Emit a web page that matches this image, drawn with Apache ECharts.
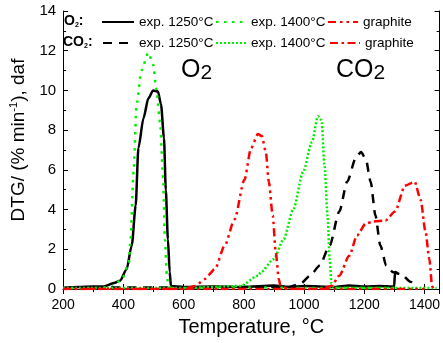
<!DOCTYPE html>
<html>
<head>
<meta charset="utf-8">
<script src="https://cdn.jsdelivr.net/npm/echarts@6/dist/echarts.min.js"></script>
<style>
  html, body { margin: 0; padding: 0; background: #fff; }
  #chart { width: 443px; height: 343px; }
</style>
</head>
<body>
<div id="chart"></div>
<script>
// [temperature °C, DTG %/min daf]
const o2Exp1250 = [
  [200, 0.05], [250, 0.1], [300, 0.12], [333, 0.12], [369, 0.3], [389, 0.42], [411, 1.0], [428, 2.2],
  [441, 4.2], [450, 7.1], [467, 8.6], [483, 9.6], [499, 10.0], [515, 9.95], [525, 9.3], [535, 7.6],
  [541, 5.0], [548, 2.5], [554, 0.85], [558, 0.15], [600, 0.1], [700, 0.12], [800, 0.1], [900, 0.18],
  [950, 0.1], [1000, 0.15], [1100, 0.1], [1150, 0.18], [1200, 0.12], [1250, 0.15], [1299, 0.12],
  [1302, 0.85], [1310, 0.8]
];
const o2Exp1400 = [
  [200, 0.05], [300, 0.05], [360, 0.1], [396, 0.5], [418, 1.3], [424, 2.5], [434, 5.9], [444, 9.3],
  [460, 11.0], [483, 11.9], [499, 11.3], [509, 10.1], [522, 8.4], [532, 5.6], [538, 2.5], [545, 0.6],
  [550, 0.1], [600, 0.05], [800, 0.08], [1000, 0.05], [1300, 0.05]
];
const o2Graphite = [
  [200, 0], [600, 0], [639, 0.15], [670, 0.5], [704, 1.0], [737, 2.2], [769, 3.5], [802, 5.5],
  [824, 7.1], [847, 7.8], [860, 7.7], [873, 6.9], [883, 5.4], [896, 3.7], [906, 1.85], [916, 0.5],
  [922, 0.15], [950, 0], [1400, 0]
];
const co2Exp1250 = [
  [200, 0.05], [500, 0.08], [800, 0.1], [950, 0.1], [987, 0.25], [1020, 0.67], [1052, 1.18],
  [1085, 2.2], [1117, 3.9], [1143, 5.4], [1172, 6.6], [1189, 6.9], [1205, 6.55], [1221, 5.4],
  [1237, 3.7], [1253, 2.2], [1273, 1.18], [1296, 0.84], [1322, 0.75], [1355, 0.35], [1370, 0.1]
];
const co2Exp1400 = [
  [200, 0.05], [600, 0.05], [790, 0.15], [847, 0.67], [857, 0.85], [899, 1.5], [932, 2.5], [964, 4.0],
  [997, 5.9], [1026, 7.4], [1046, 8.7], [1058, 8.5], [1068, 6.2], [1078, 3.7], [1085, 1.5],
  [1091, 0.25], [1100, 0.05], [1440, 0.05]
];
const co2Graphite = [
  [200, 0], [1050, 0], [1091, 0.15], [1117, 0.67], [1150, 1.67], [1176, 2.7], [1205, 3.3],
  [1231, 3.4], [1270, 3.45], [1302, 3.9], [1335, 5.2], [1367, 5.4], [1387, 4.5], [1403, 2.9],
  [1416, 1.5], [1425, 0.15], [1430, 0]
];

const seriesNames = [
  'O2 exp. 1250°C', 'O2 exp. 1400°C', 'O2 graphite',
  'CO2 exp. 1250°C', 'CO2 exp. 1400°C', 'CO2 graphite'
];
const seriesData = [o2Exp1250, o2Exp1400, o2Graphite, co2Exp1250, co2Exp1400, co2Graphite];
const seriesColors = ['#000000', '#00ee00', '#ff0000', '#000000', '#00ee00', '#ff0000'];
const seriesDash = ['solid', [2.5, 5.5], [8, 4, 2.5, 4, 2.5, 4], [9, 7], [2, 2], [8, 3.5, 2.5, 3.5]];

const xTicks = { min: 200, max: 1450, interval: 200 };
const yTicks = { min: 0, max: 14, interval: 2 };

const FONT = 'Liberation Sans, Arial, sans-serif';

const chart = echarts.init(document.getElementById('chart'));

// legend item spots, one legend per series
const legendSpots = [
  [101, 15, 32], [215, 15, 30], [327, 15, 30],
  [102, 36, 31], [215, 36, 30], [329, 36, 30]
];

const baseAxis = {
  axisLine: { show: true, lineStyle: { color: '#000', width: 1 } },
  axisTick: { show: true, inside: true, length: 5, lineStyle: { color: '#000' } },
  minorTick: { show: true, splitNumber: 2, length: 3, lineStyle: { color: '#000' } },
  splitLine: { show: false }
};

const option = {
  animation: false,
  grid: { left: 60, right: 1, top: 11, bottom: 54 },
  legend: seriesNames.map((n, i) => ({
    data: [n],
    left: legendSpots[i][0],
    top: legendSpots[i][1],
    itemWidth: legendSpots[i][2],
    itemHeight: 14,
    padding: 0,
    selectedMode: false,
    itemStyle: { opacity: 0 },
    formatter: name => name.replace(/^C?O2 /, ''),
    textStyle: { fontFamily: FONT, fontSize: 13.5, color: '#000' }
  })),
  xAxis: [
    Object.assign({}, baseAxis, {
      type: 'value', position: 'bottom', ...xTicks,
      name: 'Temperature, °C', nameLocation: 'middle', nameGap: 28,
      nameTextStyle: { fontFamily: FONT, fontSize: 20, color: '#000' },
      axisLabel: {
        fontFamily: FONT, fontSize: 14, color: '#000', margin: 9, showMaxLabel: false,
        formatter: v => String(v)
      }
    }),
    Object.assign({}, baseAxis, {
      type: 'value', position: 'top', ...xTicks, axisLabel: { show: false }
    })
  ],
  yAxis: [
    Object.assign({}, baseAxis, {
      type: 'value', position: 'left', ...yTicks,
      name: '{t|DTG/ (% min}{sup|-1}{t|), daf}', nameLocation: 'middle', nameGap: 30,
      nameTextStyle: {
        padding: [0, 0, 0, 20],
        rich: {
          t: { fontFamily: FONT, fontSize: 19, color: '#000', lineHeight: 22 },
          sup: { fontFamily: FONT, fontSize: 11, color: '#000', lineHeight: 12, verticalAlign: 'top' }
        }
      },
      axisLabel: { fontFamily: FONT, fontSize: 15, color: '#000', margin: 7 }
    }),
    Object.assign({}, baseAxis, {
      type: 'value', position: 'right', ...yTicks, axisLabel: { show: false }
    })
  ],
  graphic: [
    {
      type: 'text', left: 64, top: 14,
      style: {
        text: '{b|O}{s|2}{b|:}',
        rich: {
          b: { fontFamily: FONT, fontSize: 14, fontWeight: 'bold', fill: '#000', lineHeight: 16 },
          s: { fontFamily: FONT, fontSize: 7, fontWeight: 'bold', fill: '#000', lineHeight: 7, verticalAlign: 'bottom' }
        }
      }
    },
    {
      type: 'text', left: 63, top: 35,
      style: {
        text: '{b|CO}{s|2}{b|:}',
        rich: {
          b: { fontFamily: FONT, fontSize: 14, fontWeight: 'bold', fill: '#000', lineHeight: 16 },
          s: { fontFamily: FONT, fontSize: 7, fontWeight: 'bold', fill: '#000', lineHeight: 7, verticalAlign: 'bottom' }
        }
      }
    },
    {
      type: 'text', left: 181, top: 58,
      style: {
        text: '{b|O}{s|2}',
        rich: {
          b: { fontFamily: FONT, fontSize: 25, fill: '#000', lineHeight: 27 },
          s: { fontFamily: FONT, fontSize: 21, fill: '#000', lineHeight: 15, verticalAlign: 'bottom' }
        }
      }
    },
    {
      type: 'text', left: 336, top: 58,
      style: {
        text: '{b|CO}{s|2}',
        rich: {
          b: { fontFamily: FONT, fontSize: 25, fill: '#000', lineHeight: 27 },
          s: { fontFamily: FONT, fontSize: 21, fill: '#000', lineHeight: 15, verticalAlign: 'bottom' }
        }
      }
    }
  ],
  series: seriesNames.map((n, i) => ({
    name: n,
    type: 'line',
    data: seriesData[i],
    symbol: 'none',
    showSymbol: false,
    smooth: 0.25,
    smoothMonotone: 'x',
    color: seriesColors[i],
    lineStyle: { color: seriesColors[i], width: 2.5, type: seriesDash[i] },
    z: i === 2 || i === 5 ? 3 : 2
  }))
};

chart.setOption(option);
</script>
</body>
</html>
